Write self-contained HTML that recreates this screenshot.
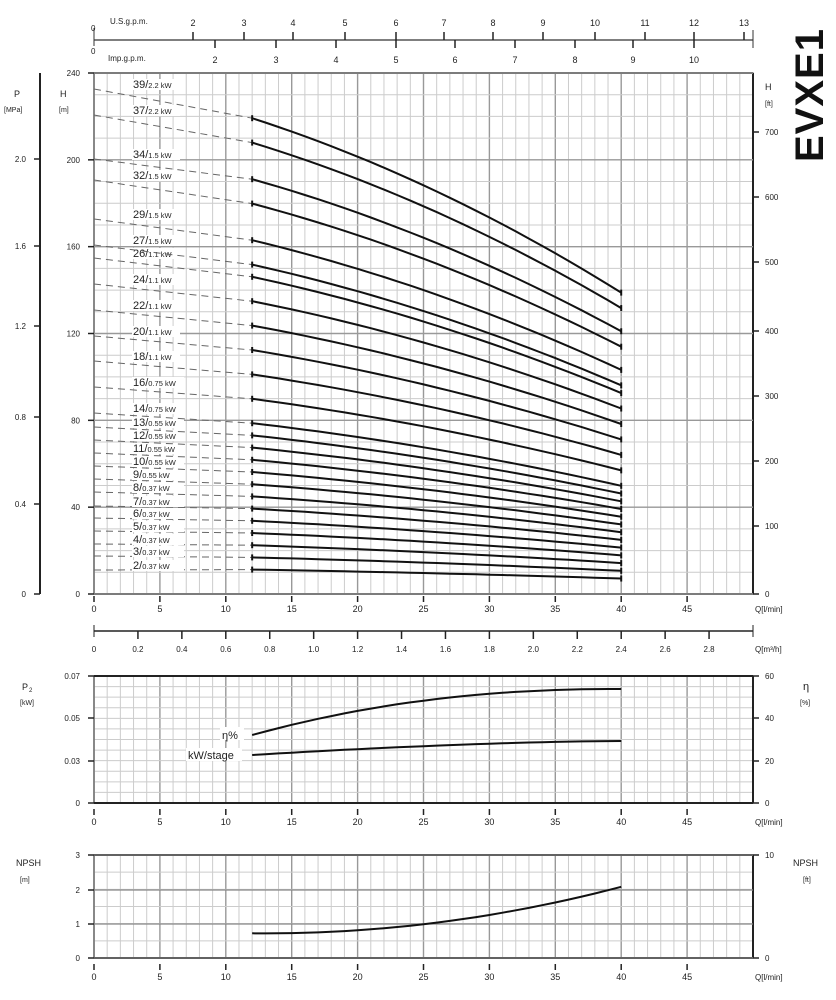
<!DOCTYPE html>
<html><head><meta charset="utf-8"><style>
body{margin:0;background:#fff;}
svg{display:block;font-family:"Liberation Sans",sans-serif;}
</style></head><body>
<svg id="s" width="836" height="1000" viewBox="0 0 836 1000" xmlns="http://www.w3.org/2000/svg"></svg>
<script>
const s=document.getElementById('s');let h='';
const X0=94,XW=659/50;
const qx=q=>X0+q*XW;
function L(x1,y1,x2,y2,c,w,extra){h+=`<line x1="${x1}" y1="${y1}" x2="${x2}" y2="${y2}" stroke="${c}" stroke-width="${w}" ${extra||''}/>`;}
function T(x,y,t,sz,anc,extra){h+=`<text x="${x}" y="${y}" font-size="${sz}" text-anchor="${anc||'start'}" fill="#222" ${extra||''}>${t}</text>`;}
function grid(yt,yb,hstep){
  for(let q=0;q<=50;q++){const x=qx(q);L(x,yt,x,yb,q%5==0?'#999':'#ccc',q%5==0?1.4:1);}
  for(let y=yb;y>=yt-0.5;y-=hstep){L(X0,y,753,y,'#ccc',1);}
  h+=`<rect x="${X0}" y="${yt}" width="659" height="${yb-yt}" fill="none" stroke="#555" stroke-width="1.2"/>`;
  L(X0,yt,753,yt,'#222',2);L(753,yt,753,yb,'#222',2);L(X0,yb,753,yb,'#222',2);
}
function xlabels(y){for(let q=0;q<=45;q+=5){T(qx(q),y,q,9,'middle');L(qx(q),y-16,qx(q),y-10,'#222',1.5);}T(755,y,'Q[l/min]',8,'start');}
// top gpm axis
L(X0,40,753,40,'#333',1.2);L(X0,28,X0,46,'#333',1);
T(91,31,'0',8);T(91,54,'0',8);T(110,24,'U.S.g.p.m.',8);T(108,61,'Imp.g.p.m.',8);
[[2,193],[3,244],[4,293],[5,345],[6,396],[7,444],[8,493],[9,543],[10,595],[11,645],[12,694],[13,744]].forEach(([v,x])=>{L(x,32,x,40,'#222',1.5);T(x,26,v,9,'middle');});
[[2,215],[3,276],[4,336],[5,396],[6,455],[7,515],[8,575],[9,633],[10,694]].forEach(([v,x])=>{L(x,40,x,48,'#222',1.5);T(x,63,v,9,'middle');});
L(753,30,753,48,'#333',1);
// main chart
const yt=73,yb=594,py=(yb-yt)/240;
grid(yt,yb,10*py);
for(let v=0;v<=240;v+=40){const y=yb-v*py;L(X0,y,753,y,'#999',1.4);L(88,y,X0,y,'#222',1.5);T(80,y+3,v,8,'end');}
T(60,97,'H',9);T(59,112,'[m]',7);
// P axis
L(40,73,40,594,'#222',2);T(14,97,'P',9);T(4,112,'[MPa]',7);
[[2.0,159],[1.6,246],[1.2,326],[0.8,417],[0.4,504],[0,594]].forEach(([v,y])=>{L(34,y,40,y,'#222',1.5);T(26,y+3,v==0?'0':v.toFixed(1),8,'end');});
// ft axis
T(765,90,'H',9);T(765,106,'[ft]',7);
[[700,132],[600,197],[500,262],[400,331],[300,396],[200,461],[100,526],[0,594]].forEach(([v,y])=>{L(753,y,759,y,'#222',1.5);T(765,y+3,v,8);});
xlabels(612);
// curves
const st=[[2,'0.37',570],[3,'0.37',556],[4,'0.37',544],[5,'0.37',531],[6,'0.37',518],[7,'0.37',506],[8,'0.37',492],[9,'0.55',479],[10,'0.55',466],[11,'0.55',453],[12,'0.55',440],[13,'0.55',427],[14,'0.75',413],[16,'0.75',387],[18,'1.1',361],[20,'1.1',336],[22,'1.1',310],[24,'1.1',284],[26,'1.1',258],[27,'1.5',245],[29,'1.5',219],[32,'1.5',180],[34,'1.5',159],[37,'2.2',115],[39,'2.2',89]];
const Hs=q=>6.1007-0.03*q-0.000838*q*q;
st.forEach(([n,kw,ly])=>{
  let pts=[];for(let q=12;q<=40;q+=1)pts.push(qx(q).toFixed(1)+','+(yb-n*Hs(q)*py).toFixed(1));
  const ys=yb-n*Hs(12)*py;
  L(X0,ly,qx(12),ys,'#666',1,'stroke-dasharray="7,5"');
  h+=`<polyline points="${pts.join(' ')}" fill="none" stroke="#111" stroke-width="2"/>`;
  L(qx(12),ys-3,qx(12),ys+3,'#111',2);L(qx(40),yb-n*Hs(40)*py-3,qx(40),yb-n*Hs(40)*py+3,'#111',2);
  h+=`<rect x="132" y="${ly-10}" width="${kw.length>3?52:48}" height="11" fill="#fff"/>`;
  h+=`<text x="133" y="${ly-1}" font-size="11" fill="#222">${n}/<tspan font-size="7.5">${kw} kW</tspan></text>`;
});
// m3/h axis
L(X0,631,753,631,'#222',1.5);L(X0,625,X0,637,'#222',1);L(753,625,753,637,'#222',1);
for(let i=0;i<=14;i++){const v=i*0.2;if(i>0){L(qx(v*1000/60),631,qx(v*1000/60),639,'#222',1.5);}T(qx(v*1000/60),652,i==0?'0':v.toFixed(1),8,'middle');}
T(755,652,'Q[m³/h]',8);
// title
h+=`<text x="0" y="0" transform="translate(823,162) rotate(-90)" font-size="40" font-weight="bold" fill="#111" letter-spacing="1">EVXE1</text>`;
// panel 2
grid(676,803,42.33/4);
[[0.07,676],[0.05,718],[0.03,761],[0,803]].forEach(([v,y])=>{L(88,y,X0,y,'#222',1.5);T(80,y+3,v,8,'end');L(753,y,759,y,'#222',1.5);});
[[60,676],[40,718],[20,761],[0,803]].forEach(([v,y])=>T(765,y+3,v,8));
T(22,690,'P',9);T(29,692,'2',6);T(20,705,'[kW]',7);T(803,690,'η',11);T(800,705,'[%]',7);
let e=[],k=[];for(let q=12;q<=40;q++){const t=(q-12)/28;e.push(qx(q)+','+(735-46*(1-Math.pow(1-t,2.2))).toFixed(1));k.push(qx(q)+','+(755-14*(1-Math.pow(1-t,1.6))).toFixed(1));}
h+=`<polyline points="${e.join(' ')}" fill="none" stroke="#111" stroke-width="2"/><polyline points="${k.join(' ')}" fill="none" stroke="#111" stroke-width="2"/>`;
h+=`<rect x="220" y="727" width="24" height="13" fill="#fff"/><rect x="186" y="748" width="56" height="13" fill="#fff"/>`;
T(222,739,'η%',11);T(188,759,'kW/stage',11);
xlabels(825);
// panel 3
grid(855,958,103/6);
[[3,855],[2,890],[1,924],[0,958]].forEach(([v,y])=>{L(88,y,X0,y,'#222',1.5);L(X0,y,753,y,'#888',1.2);T(80,y+3,v,8,'end');});
L(753,855,759,855,'#222',1.5);L(753,958,759,958,'#222',1.5);T(765,858,'10',8);T(765,961,'0',8);
T(16,866,'NPSH',9);T(20,882,'[m]',7);T(793,866,'NPSH',9);T(803,882,'[ft]',7);
let n=[];for(let q=12;q<=40;q++){const t=q-12;const H=0.72-0.004*t+0.00187*t*t;n.push(qx(q)+','+(958-H*34.33).toFixed(1));}
h+=`<polyline points="${n.join(' ')}" fill="none" stroke="#111" stroke-width="2"/>`;
xlabels(980);
s.innerHTML=h;
</script>
</body></html>
